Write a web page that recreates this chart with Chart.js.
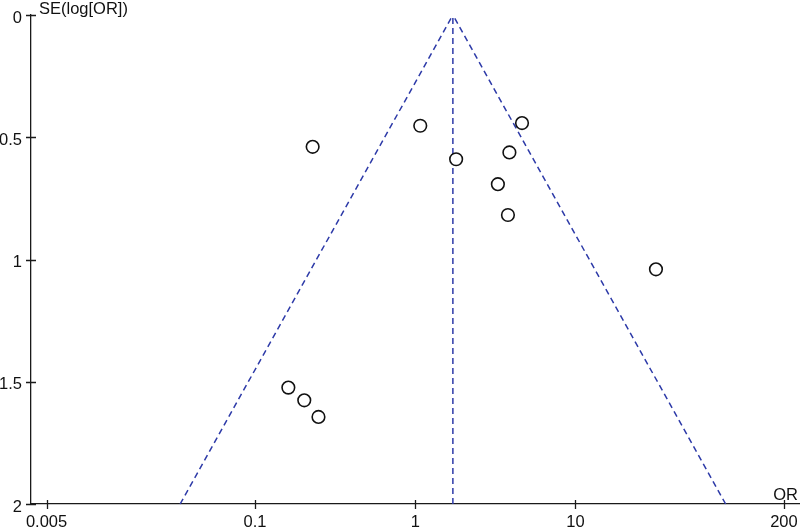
<!DOCTYPE html>
<html>
<head>
<meta charset="utf-8">
<script src="https://cdn.jsdelivr.net/npm/chart.js@4"></script>
<style>
html,body{margin:0;padding:0;background:#fff;}
#wrap{width:800px;height:528px;}
</style>
</head>
<body>
<div id="wrap"><canvas id="c" width="800" height="528"></canvas></div>
<script>
// ---- data ----
const studyOR = [0.229, 1.075, 4.64, 3.87, 1.80, 3.28, 3.79, 0.1615, 0.203, 0.249, 31.8];
const studySE = [0.539, 0.453, 0.442, 0.562, 0.590, 0.692, 0.818, 1.524, 1.576, 1.644, 1.040];
const pooledOR = 1.718;
const funnelLowerOR = [0.0341, 1.718];   // at SE = 2 and SE = 0
const funnelUpperOR = [86.6, 1.718];
const funnelSE = [2, 0];
const xTickValues = [0.005, 0.1, 1, 10, 200];
const xTickLabels = ['0.005', '0.1', '1', '10', '200'];
const yTickValues = [0, 0.5, 1, 1.5, 2];
const yTickLabels = ['0', '0.5', '1', '1.5', '2'];
const xTitle = 'OR';
const yTitle = 'SE(log[OR])';

const FONT = {family: '"Liberation Sans", Arial, sans-serif', size: 16.5};
const AXIS = '#1a1a1a';
const BLUE = '#2d3aa8';

const points = studyOR.map((v, i) => ({x: v, y: studySE[i]}));
const lowerLine = funnelLowerOR.map((v, i) => ({x: v, y: funnelSE[i]}));
const upperLine = funnelUpperOR.map((v, i) => ({x: v, y: funnelSE[i]}));
const centerLine = funnelSE.map(s => ({x: pooledOR, y: s}));

const extras = {
  id: 'extras',
  afterDraw(chart) {
    const ctx = chart.ctx;
    const xs = chart.scales.x, ys = chart.scales.y;
    const ca = chart.chartArea;
    ctx.save();
    ctx.strokeStyle = AXIS;
    ctx.lineWidth = 1.3;
    ctx.beginPath();
    xTickValues.forEach(v => {
      const px = Math.round(xs.getPixelForValue(v)) + 0.5;
      ctx.moveTo(px, ca.bottom - 4);
      ctx.lineTo(px, ca.bottom + 5);
    });
    yTickValues.forEach(v => {
      const py = Math.round(ys.getPixelForValue(v)) + 0.5;
      ctx.moveTo(ca.left - 5, py);
      ctx.lineTo(ca.left + 5, py);
    });
    ctx.stroke();
    ctx.fillStyle = '#111';
    ctx.font = FONT.size + 'px ' + FONT.family;
    ctx.textBaseline = 'alphabetic';
    ctx.textAlign = 'left';
    ctx.fillText(yTitle, ca.left + 8, ca.top - 1);
    ctx.textAlign = 'right';
    ctx.fillText(xTitle, 798, ca.bottom - 4);
    ctx.restore();
  }
};

new Chart(document.getElementById('c'), {
  type: 'scatter',
  data: {
    datasets: [
      {type: 'line', data: lowerLine, borderColor: BLUE, borderWidth: 1.5, borderDash: [6, 4], pointRadius: 0, fill: false, order: 2, clip: false},
      {type: 'line', data: upperLine, borderColor: BLUE, borderWidth: 1.5, borderDash: [6, 4], pointRadius: 0, fill: false, order: 2, clip: false},
      {type: 'line', data: centerLine, borderColor: BLUE, borderWidth: 1.5, borderDash: [6, 4], pointRadius: 0, fill: false, order: 2, clip: false},
      {type: 'scatter', data: points, pointRadius: 6.3, pointBorderWidth: 1.6, pointBorderColor: '#111', pointBackgroundColor: '#ffffff', order: 1, clip: false}
    ]
  },
  options: {
    responsive: false,
    animation: false,
    events: [],
    layout: {autoPadding: false, padding: {top: 15, right: 0, left: 0, bottom: 0}},
    plugins: {legend: {display: false}, tooltip: {enabled: false}},
    scales: {
      x: {
        type: 'logarithmic',
        min: 0.004, max: 252,
        position: 'bottom',
        grid: {display: false, drawTicks: false},
        border: {display: true, color: AXIS, width: 1.3},
        afterBuildTicks: s => { s.ticks = xTickValues.map(v => ({value: v})); },
        afterFit: s => { s.height = 24; s.paddingLeft = 0; s.paddingRight = 0; },
        ticks: {
          autoSkip: false, maxRotation: 0, padding: 9,
          color: '#111', font: FONT,
          callback: (v) => { const i = xTickValues.indexOf(v); return i >= 0 ? xTickLabels[i] : ''; }
        }
      },
      y: {
        type: 'linear',
        reverse: true,
        min: 0, max: 2,
        grid: {display: false, drawTicks: false},
        border: {display: true, color: AXIS, width: 1.3},
        afterBuildTicks: s => { s.ticks = yTickValues.map(v => ({value: v})); },
        afterFit: s => { s.width = 31; s.paddingTop = 0; s.paddingBottom = 0; },
        ticks: {
          padding: 9, labelOffset: 3, color: '#111', font: FONT,
          callback: (v) => yTickLabels[yTickValues.indexOf(v)]
        }
      }
    }
  },
  plugins: [extras]
});
</script>
</body>
</html>
